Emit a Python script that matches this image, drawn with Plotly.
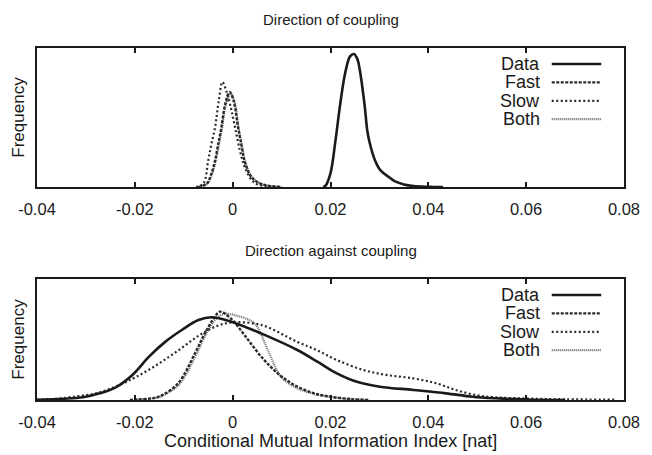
import plotly.graph_objects as go

# ---------------- data ----------------
# Top panel: "Direction of coupling"
TOP_DATA_X = [0.0185, 0.019, 0.020, 0.021, 0.022, 0.023, 0.024, 0.0248, 0.0255, 0.026, 0.027, 0.0275,
              0.028, 0.029, 0.030, 0.031, 0.032, 0.033, 0.034, 0.035, 0.037, 0.040, 0.043]
TOP_DATA_Y = [0, 0.01, 0.10, 0.33, 0.60, 0.82, 0.94, 0.957, 0.92, 0.84, 0.58, 0.41,
              0.32, 0.20, 0.13, 0.095, 0.07, 0.045, 0.03, 0.018, 0.007, 0.002, 0]

TOP_FAST_X = [-0.007, -0.0053, -0.0045, -0.0036, -0.003, -0.0023, -0.0015, -0.0006, 0.0002,
              0.0011, 0.0018, 0.0024, 0.0035, 0.0045, 0.006, 0.008, 0.010]
TOP_FAST_Y = [0, 0.025, 0.08, 0.19, 0.30, 0.43, 0.60, 0.683, 0.62,
              0.43, 0.30, 0.19, 0.09, 0.048, 0.02, 0.006, 0]
TOP_BOTH_X = [-0.007, -0.0052, -0.0044, -0.0035, -0.0029, -0.0022, -0.0014, -0.0004, 0.0004,
              0.0012, 0.0019, 0.0025, 0.0036, 0.0046, 0.006, 0.008, 0.010]
TOP_BOTH_Y = [0, 0.022, 0.075, 0.18, 0.29, 0.42, 0.59, 0.67, 0.61,
              0.43, 0.30, 0.19, 0.09, 0.05, 0.02, 0.006, 0]
TOP_SLOW_X = [-0.0075, -0.006, -0.005, -0.0044, -0.0036, -0.0028, -0.0021, -0.0012, -0.0003,
              0.0006, 0.0015, 0.0024, 0.0035, 0.0045, 0.006, 0.008, 0.010]
TOP_SLOW_Y = [0, 0.025, 0.19, 0.30, 0.43, 0.63, 0.755, 0.68, 0.56,
              0.41, 0.26, 0.15, 0.07, 0.03, 0.01, 0.003, 0]

# Bottom panel: "Direction against coupling"
BOT_DATA_X = [-0.040, -0.0347, -0.0306, -0.0272, -0.0239, -0.0205, -0.0171, -0.0138, -0.0104, -0.007,
              -0.0043, -0.0003, 0.0058, 0.0132, 0.0173, 0.0213, 0.0254, 0.0301, 0.0369, 0.0436,
              0.049, 0.0537, 0.060, 0.068]
BOT_DATA_Y = [0.002, 0.01, 0.022, 0.055, 0.105, 0.207, 0.358, 0.48, 0.578, 0.66,
              0.683, 0.647, 0.55, 0.413, 0.317, 0.22, 0.15, 0.11, 0.083, 0.055,
              0.027, 0.014, 0.004, 0]
BOT_SLOW_X = [-0.040, -0.036, -0.032, -0.0285, -0.0252, -0.0205, -0.0171, -0.0138, -0.0104, -0.007,
              -0.0036, -0.0003, 0.0058, 0.0132, 0.0173, 0.0213, 0.0267, 0.0314, 0.0369, 0.0416,
              0.0456, 0.0497, 0.0537, 0.0604, 0.068, 0.078]
BOT_SLOW_Y = [0.002, 0.01, 0.03, 0.05, 0.09, 0.175, 0.25, 0.335, 0.43, 0.53,
              0.605, 0.64, 0.62, 0.48, 0.41, 0.33, 0.248, 0.207, 0.179, 0.138,
              0.083, 0.041, 0.022, 0.012, 0.006, 0.003]
BOT_FAST_X = [-0.021, -0.0192, -0.016, -0.0144, -0.0111, -0.0077, -0.0057, -0.0036, -0.0026, -0.0003,
              0.0024, 0.0058, 0.0092, 0.0126, 0.0166, 0.020, 0.024, 0.028]
BOT_FAST_Y = [0, 0.004, 0.018, 0.04, 0.14, 0.386, 0.55, 0.69, 0.73, 0.67,
              0.537, 0.36, 0.22, 0.124, 0.055, 0.027, 0.008, 0]
BOT_BOTH_X = [-0.021, -0.019, -0.016, -0.0142, -0.0109, -0.0075, -0.0055, -0.0034, -0.0018, 0.0005,
              0.0045, 0.0072, 0.0099, 0.0130, 0.0168, 0.020, 0.024, 0.028]
BOT_BOTH_Y = [0, 0.004, 0.016, 0.038, 0.13, 0.37, 0.54, 0.67, 0.71, 0.70,
              0.63, 0.41, 0.19, 0.10, 0.05, 0.025, 0.008, 0]

TICK_VALS = [-0.04, -0.02, 0.0, 0.02, 0.04, 0.06, 0.08]
TICK_TEXT = ["-0.04", "-0.02", "0", "0.02", "0.04", "0.06", "0.08"]
SERIES = ["Data", "Fast", "Slow", "Both"]
TITLES = ["Direction of coupling", "Direction against coupling"]
X_TITLE = "Conditional Mutual Information Index [nat]"
Y_TITLE = "Frequency"

# ---------------- styles ----------------
FONT = "Liberation Sans, Arial, Helvetica, sans-serif"
INK = "#1a1a1a"
STY = {
    "Data": dict(color="#1a1a1a", width=2.6, dash="solid"),
    "Fast": dict(color="#2a2a2a", width=2.4, dash="3px,1.5px"),
    "Slow": dict(color="#2a2a2a", width=2.2, dash="2px,2.5px"),
    "Both": dict(color="#6a6a6a", width=2.2, dash="1px,1px"),
}

fig = go.Figure()

def add(x, y, name, ax):
    fig.add_trace(go.Scatter(x=x, y=y, mode="lines", name=name,
                             line=dict(shape="spline", smoothing=1.0, **STY[name]),
                             xaxis="x" if ax == 1 else "x2", yaxis="y" if ax == 1 else "y2",
                             showlegend=False, hoverinfo="skip"))

add(TOP_BOTH_X, TOP_BOTH_Y, "Both", 1)
add(TOP_SLOW_X, TOP_SLOW_Y, "Slow", 1)
add(TOP_FAST_X, TOP_FAST_Y, "Fast", 1)
add(TOP_DATA_X, TOP_DATA_Y, "Data", 1)

add(BOT_BOTH_X, BOT_BOTH_Y, "Both", 2)
add(BOT_SLOW_X, BOT_SLOW_Y, "Slow", 2)
add(BOT_FAST_X, BOT_FAST_Y, "Fast", 2)
add(BOT_DATA_X, BOT_DATA_Y, "Data", 2)

xcommon = dict(range=[-0.04, 0.08], tickvals=TICK_VALS, ticktext=TICK_TEXT, ticks="inside", ticklen=5,
               tickwidth=2, tickcolor=INK, showline=True, linewidth=2, linecolor=INK,
               mirror="ticks", showgrid=False, zeroline=False, ticklabelstandoff=6,
               tickfont=dict(family=FONT, size=16.5, color=INK))
ycommon = dict(range=[0, 1], showticklabels=False, ticks="", showline=True, linewidth=2,
               linecolor=INK, mirror=True, showgrid=False, zeroline=False)

# plot area: x 37..630 px, y 48..400 px  (fig 652x455)
fig.update_layout(
    width=652, height=455,
    margin=dict(l=37, r=22, t=48, b=55),
    paper_bgcolor="white", plot_bgcolor="white",
    xaxis=dict(anchor="y", **xcommon),
    xaxis2=dict(anchor="y2", **xcommon),
    yaxis=dict(domain=[0.605, 1.0], anchor="x", **ycommon),
    yaxis2=dict(domain=[0.0, 0.344], anchor="x2", **ycommon),
    font=dict(family=FONT, color=INK),
)

def py(p):
    return (400 - p) / 352.0

def px(p):
    return (p - 37) / 593.0

ann = []
ann.append(dict(text=TITLES[0], x=0.5, y=py(20), xref="paper", yref="paper", showarrow=False,
                font=dict(size=15, family=FONT), xanchor="center", yanchor="middle"))
ann.append(dict(text=TITLES[1], x=0.5, y=py(250), xref="paper", yref="paper", showarrow=False,
                font=dict(size=15, family=FONT), xanchor="center", yanchor="middle"))
ann.append(dict(text=X_TITLE, x=0.5, y=py(441), xref="paper", yref="paper", showarrow=False,
                font=dict(size=18, family=FONT), xanchor="center", yanchor="middle"))
for yc in (117.5, 339.5):
    ann.append(dict(text=Y_TITLE, x=px(18), y=py(yc), xref="paper", yref="paper", showarrow=False,
                    textangle=-90, font=dict(size=17, family=FONT), xanchor="center", yanchor="middle"))

shapes = []
for base in (64, 295):
    for i, name in enumerate(SERIES):
        yy = base + i * 18.4
        ann.append(dict(text=name, x=px(547), y=py(yy), xref="paper", yref="paper", showarrow=False,
                        font=dict(size=18, family=FONT), xanchor="right", yanchor="middle"))
        s = STY[name]
        shapes.append(dict(type="line", xref="paper", yref="paper", x0=px(557), x1=px(607),
                           y0=py(yy), y1=py(yy), line=dict(color=s["color"], width=s["width"], dash=s["dash"])))

fig.update_layout(annotations=ann, shapes=shapes)
fig.write_html("out.html")
